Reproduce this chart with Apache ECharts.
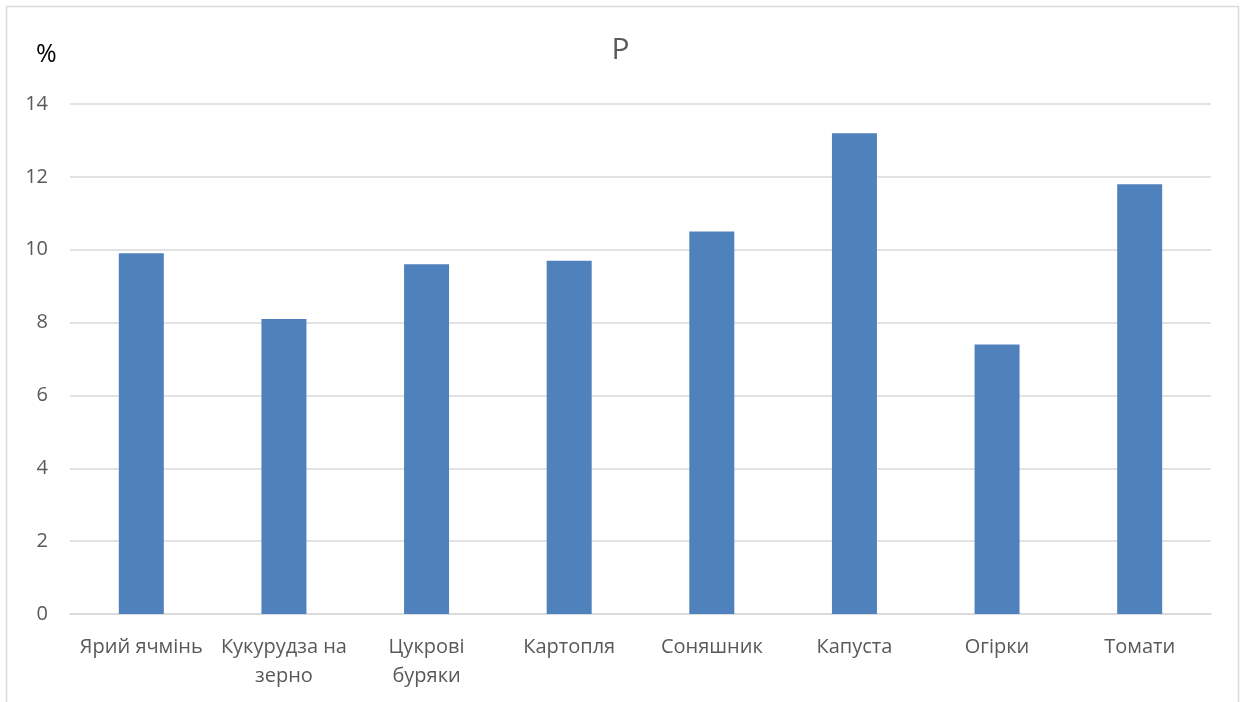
<!DOCTYPE html>
<html><head><meta charset="utf-8">
<script src="https://cdn.jsdelivr.net/npm/echarts@6/dist/echarts.min.js"></script>
<style>html,body{margin:0;padding:0;background:#fff}#c{width:1241px;height:702px}</style>
</head><body><div id="c"></div>
<script>
const categories = ['Ярий ячмінь', 'Кукурудза на\nзерно', 'Цукрові\nбуряки', 'Картопля', 'Соняшник', 'Капуста', 'Огірки', 'Томати'];
const values = [9.9, 8.1, 9.6, 9.7, 10.5, 13.2, 7.4, 11.8];
const chartTitle = 'P';
const unitLabel = '%';

const FONT = '"Open Sans", "Liberation Sans", sans-serif';
const chart = echarts.init(document.getElementById('c'));
chart.setOption({
  animation: false,
  backgroundColor: '#fff',
  title: {
    text: chartTitle, left: 'center', top: 30,
    textStyle: { fontFamily: FONT, fontSize: 30, fontWeight: 'normal', color: '#595959' }
  },
  graphic: [
    { type: 'rect', shape: { x: 6.5, y: 6.5, width: 1232, height: 720 }, style: { fill: 'none', stroke: '#d9d9d9', lineWidth: 1.5 }, silent: true },
    { type: 'text', left: 36, top: 42, style: { text: unitLabel, fontFamily: FONT, fontSize: 25, fill: '#000' } }
  ],
  grid: { left: 70, right: 30, top: 104, bottom: 88, containLabel: false },
  xAxis: {
    type: 'category', data: categories,
    axisLine: { lineStyle: { color: '#d9d9d9', width: 1.5 } },
    axisTick: { show: false },
    axisLabel: { fontFamily: FONT, fontSize: 20, color: '#595959', margin: 19, lineHeight: 29, interval: 0 }
  },
  yAxis: {
    type: 'value', min: 0, max: 14, interval: 2,
    axisLine: { show: false }, axisTick: { show: false },
    splitLine: { lineStyle: { color: '#d9d9d9', width: 1.5 } },
    axisLabel: { fontFamily: FONT, fontSize: 20, color: '#595959', margin: 22 }
  },
  series: [{
    type: 'bar', data: values, barWidth: 45,
    itemStyle: { color: '#4f81bd' }
  }]
});
</script></body></html>
